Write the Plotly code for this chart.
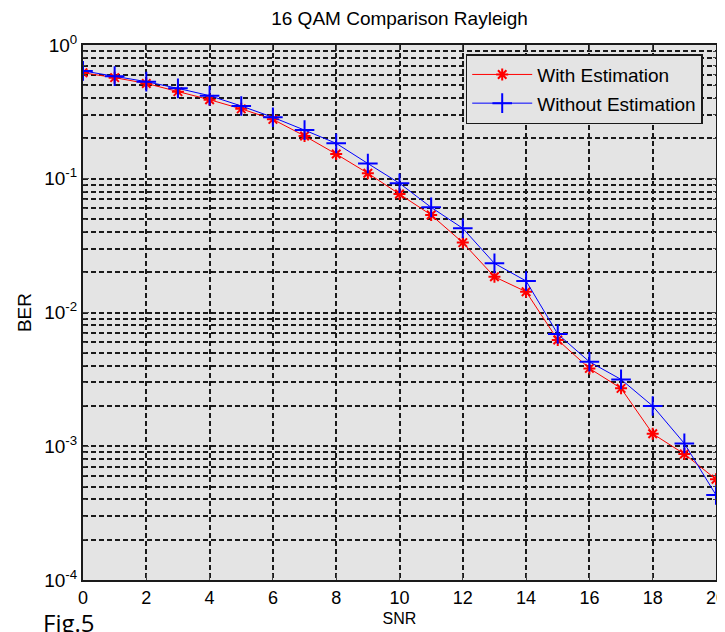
import plotly.graph_objects as go

snr = list(range(0, 21))
ber_with = [0.62, 0.57, 0.516, 0.448, 0.39, 0.333, 0.278, 0.209, 0.153, 0.110, 0.077,
            0.0536, 0.0333, 0.0185, 0.0143, 0.00623, 0.00382, 0.00271, 0.00124, 0.000875, 0.000566]
ber_without = [0.64, 0.585, 0.532, 0.474, 0.418, 0.35, 0.288, 0.231, 0.184, 0.130, 0.0925,
               0.0611, 0.0426, 0.0233, 0.0172, 0.0069, 0.00428, 0.00316, 0.0020, 0.00105, 0.000432]
x_ticks = list(range(0, 21, 2))
y_tickvals = [1e-4, 1e-3, 1e-2, 1e-1, 1]
y_ticktext = ["10<sup>-4</sup>", "10<sup>-3</sup>", "10<sup>-2</sup>", "10<sup>-1</sup>", "10<sup>0</sup>"]

fig = go.Figure()
fig.add_trace(go.Scatter(
    x=snr, y=ber_with, name="With Estimation", mode="lines+markers", legendgroup="a",
    line=dict(color="#ff0000", width=1),
    marker=dict(symbol="asterisk-open", size=10, line=dict(color="#ff0000", width=2)),
))
fig.add_trace(go.Scatter(
    x=snr, y=ber_without, name="Without Estimation", mode="lines+markers", legendgroup="b",
    line=dict(color="#0000ff", width=1),
    marker=dict(symbol="cross-thin-open", size=14, line=dict(color="#0000ff", width=2)),
))

# page body has an 8px default margin, so the figure is 8px smaller and margins shifted
font_family = "Liberation Sans, Arial, sans-serif"
grid = dict(gridcolor="#1a1a1a", griddash="5px,3px")
fig.update_layout(
    width=717, height=624,
    margin=dict(l=75, r=9, t=37, b=52, autoexpand=False),
    paper_bgcolor="white", plot_bgcolor="#e4e4e4",
    font=dict(family=font_family, color="black", size=16),
    title=dict(text="16 QAM Comparison Rayleigh", xref="paper", x=0.5, xanchor="center",
               yref="container", y=1 - 10 / 624, yanchor="middle",
               font=dict(size=19)),
    showlegend=True,
    legend=dict(x=0.979, xanchor="right", y=0.983, yanchor="top",
                bgcolor="#e4e4e4", bordercolor="#1a1a1a", borderwidth=1.5,
                font=dict(size=19), tracegroupgap=1, itemwidth=60),
    xaxis=dict(
        range=[0, 20], tickvals=x_ticks, ticks="inside", ticklen=6,
        showline=True, linecolor="#1a1a1a", linewidth=2, mirror="ticks",
        showgrid=True, gridwidth=2, **grid,
        zeroline=False, tickfont=dict(size=18), automargin=False,
        ticklabeloverflow="allow",
        title=dict(text="SNR", font=dict(size=16), standoff=6),
    ),
    yaxis=dict(
        type="log", range=[-4, 0], tickvals=y_tickvals, ticktext=y_ticktext,
        ticks="inside", ticklen=6,
        showline=True, linecolor="#1a1a1a", linewidth=2, mirror="ticks",
        showgrid=True, gridwidth=2, **grid,
        zeroline=False, tickfont=dict(size=19), automargin=False,
        minor=dict(showgrid=True, gridwidth=1.5, ticks="inside", ticklen=3, dtick="D1", **grid),
        title=dict(text="BER", font=dict(size=19), standoff=8),
    ),
    annotations=[dict(text="Fig.5", x=-42 / 633, y=-42 / 535, xref="paper", yref="paper",
                      xanchor="left", yanchor="middle", showarrow=False,
                      font=dict(size=24, family="Open Sans, sans-serif"))],
)
fig.write_html("out.html")
